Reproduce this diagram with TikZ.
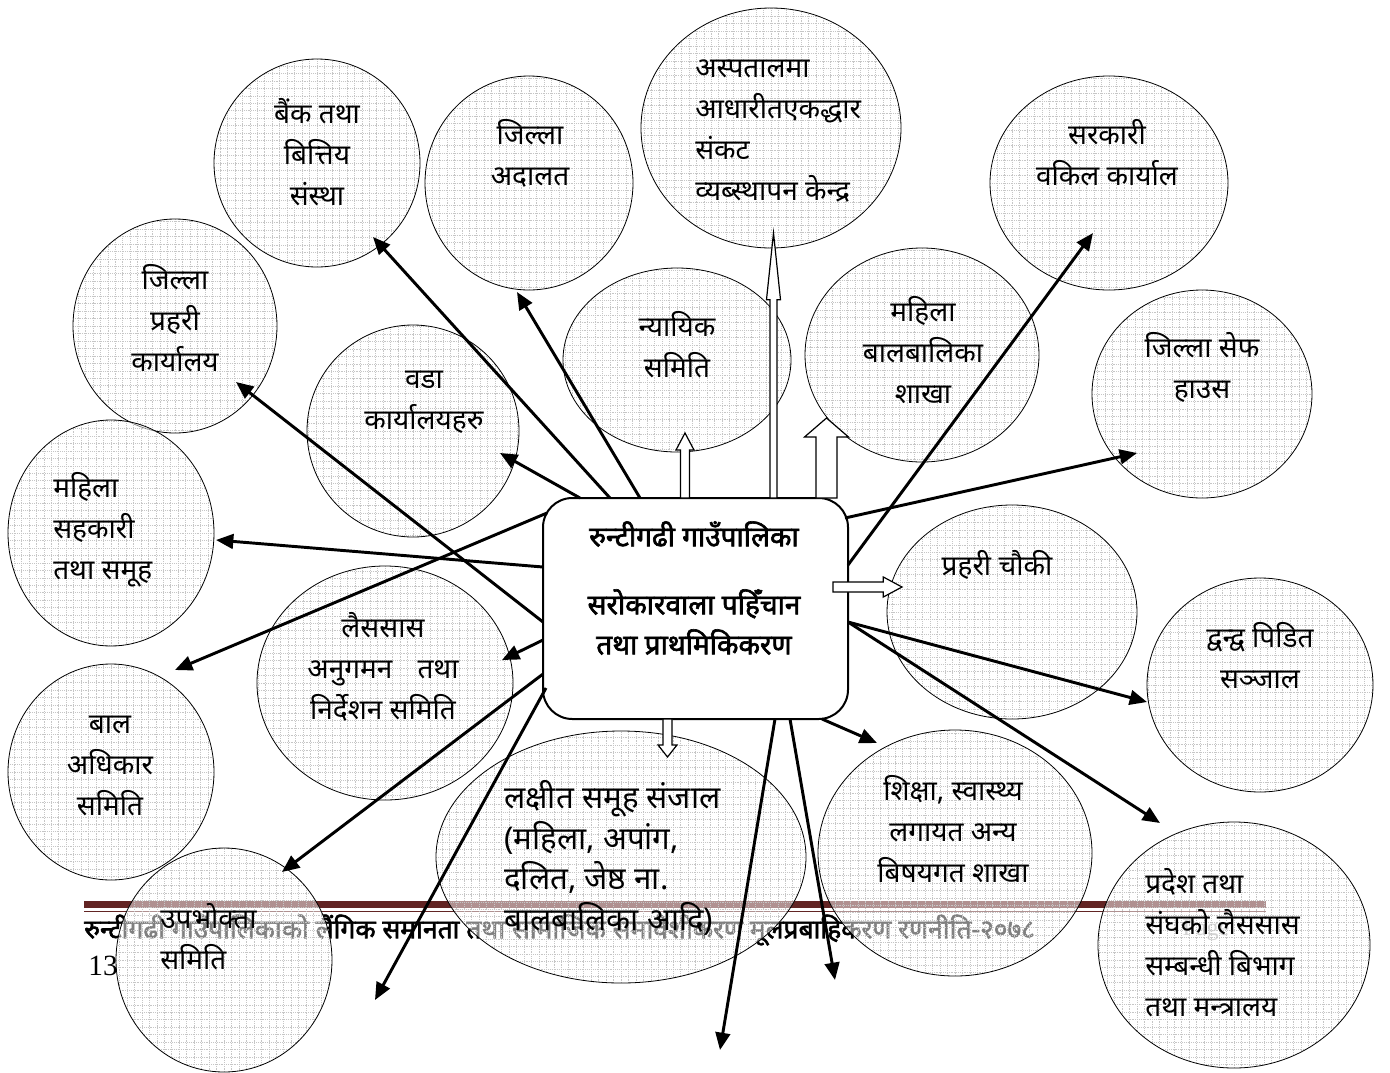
\documentclass[tikz,border=0pt]{standalone}
\usepackage{fontspec}
\newfontfamily\dev[Script=Devanagari]{Noto Sans}
\newfontfamily\devb[Script=Devanagari,FakeBold=2.2]{Noto Sans}
\newfontfamily\ser{Liberation Serif}
\usetikzlibrary{shapes.geometric,arrows.meta,calc}
\definecolor{footred}{HTML}{622423}
\newcommand{\hollowarr}[5]{%
  \coordinate (hb) at ($(#2)!#5!(#1)$);
  \draw[hollow] ($(#1)!#3!90:(#2)$) -- ($(hb)!#3!90:(#2)$) -- ($(hb)!#4!90:(#2)$) -- (#2)
    -- ($(hb)!#4!-90:(#2)$) -- ($(hb)!#3!-90:(#2)$) -- ($(#1)!#3!-90:(#2)$) -- cycle;}
\begin{document}
\begin{tikzpicture}[x=0.75pt,y=-0.75pt,
  gridln/.style={gray!45, line width=0.45pt, dash pattern=on 0.55pt off 0.85pt},
  bub/.style 2 args={ellipse, draw=black, line width=0.6pt, fill=white, fill opacity=0.5,
    inner sep=0pt, outer sep=0pt, minimum width=#1*1.5pt, minimum height=#2*1.5pt,
    path picture={\draw[gridln] (path picture bounding box.south west) grid[step=5.6pt]
      (path picture bounding box.north east);}},
  t/.style={font=\dev\fontsize{21}{30.75}\selectfont, align=center, inner sep=0pt},
  tl/.style={t, align=left, anchor=west},
  hub/.style={draw, line width=1.5pt, rounded corners=22pt, fill=white,
    minimum width=228.75pt, minimum height=165.75pt, inner sep=0pt},
  bt/.style={font=\devb\fontsize{21}{30}\selectfont, align=center, inner sep=0pt},
  arr/.style={line width=2.2pt, -{Triangle[length=13pt,width=11pt]}},
  hollow/.style={draw=black, line width=0.9pt, fill=white, line join=miter}
]
\useasboundingbox (0,0) rectangle (1390,1072);

% footer (behind the bubbles)
\fill[footred] (84,901) rectangle (1266,908);
\draw[footred, line width=1.1pt] (84,911.5) -- (1266,911.5);
\node[font=\devb\fontsize{19.8}{22}\selectfont, anchor=west, inner sep=0pt] (foot) at (84,930)
  {रुन्टीगढी गाउँपालिकाको लैंगिक समानता तथा सामाजिक समावेशीकरण मूलप्रबाहिकरण रणनीति-२०७८};
\node[font=\ser\fontsize{18}{20}\selectfont, text=gray!70, inner sep=0pt] (page) at (1206,930) {Page};
\node[font=\ser\fontsize{22}{24}\selectfont, inner sep=0pt] (pnum) at (103,966) {13};

% bubbles
\node[bub={103}{104}] (bank) at (317,163) {};
\node[bub={102}{107}] (police) at (175,326) {};
\node[bub={106}{106}] (wada) at (413,431) {};
\node[bub={104}{107}] (adalat) at (529,183) {};
\node[bub={130}{120}] (aspatal) at (771,128) {};
\node[bub={114}{92}] (nyayik) at (677,360) {};
\node[bub={117}{107}] (mbs) at (922,355) {};
\node[bub={119}{107}] (sarkari) at (1109,183) {};
\node[bub={110}{104}] (safe) at (1202,394) {};
\node[bub={125}{107}] (chauki) at (1012,612) {};
\node[bub={113}{107}] (dwandwa) at (1260,685) {};
\node[bub={137}{123}] (shiksha) at (955,853) {};
\node[bub={136}{123}] (pradesh) at (1234,945) {};
\node[bub={103}{113}] (sahakari) at (111,533) {};
\node[bub={103}{108}] (baal) at (111,772) {};
\node[bub={128}{117}] (laisasas) at (385,683) {};
\node[bub={185}{126}] (laxit) at (621,857) {};
\node[bub={108}{112}] (upa) at (224,960) {};

% bubble texts
\node[t] (bankT) at (317,152) {बैंक तथा\\बित्तिय\\संस्था};
\node[t] (policeT) at (175,318) {जिल्ला\\प्रहरी\\कार्यालय};
\node[t] (wadaT) at (424,402) {वडा\\कार्यालयहरु};
\node[t] (adalatT) at (530,153) {जिल्ला\\अदालत};
\node[tl] (aspatalT) at (695,131) {अस्पतालमा\\आधारीतएकद्धार\\संकट\\व्यब्स्थापन केन्द्र};
\node[t] (nyayikT) at (677,345) {न्यायिक\\समिति};
\node[t] (mbsT) at (923,350) {महिला\\बालबालिका\\शाखा};
\node[t] (sarkariT) at (1107,153) {सरकारी\\वकिल कार्याल};
\node[t] (safeT) at (1202,367) {जिल्ला सेफ\\हाउस};
\node[t] (chaukiT) at (997,565) {प्रहरी चौकी};
\node[t] (dwandwaT) at (1260,656) {द्वन्द्व पिडित\\सञ्जाल};
\node[t] (shikshaT) at (953,829) {शिक्षा, स्वास्थ्य\\लगायत अन्य\\बिषयगत शाखा};
\node[tl] (pradeshT) at (1145,943) {प्रदेश तथा\\संघको लैससास\\सम्बन्धी बिभाग\\तथा मन्त्रालय};
\node[tl] (sahakariT) at (53,530) {महिला\\सहकारी\\तथा समूह};
\node[t] (baalT) at (110,766) {बाल\\अधिकार\\समिति};
\node[t] (laisasasT) at (383,667) {लैससास\\अनुगमन\hspace{0.9em}तथा\\निर्देशन समिति};
\node[tl, font=\dev\fontsize{23.5}{30.5}\selectfont] (laxitT) at (504,858) {लक्षीत समूह संजाल\\(महिला, अपांग,\\दलित, जेष्ठ ना.\\बालबालिका आदि)};
\node[tl] (upaT) at (160,937) {उपभोक्ता\\समिति};

% central box
\node[hub] (hub) at (695.5,608.5) {};
\node[bt] (hubT) at (694,588) {रुन्टीगढी गाउँपालिका\\[21pt]सरोकारवाला पहिँचान\\तथा प्राथमिकिकरण};

% arrow end points
\coordinate (sBank) at (610,498);   \coordinate (tBank) at (373,237);
\coordinate (sAdalat) at (640,498); \coordinate (tAdalat) at (517,292);
\coordinate (sPolice) at (543,622); \coordinate (tPolice) at (236,382);
\coordinate (sWada) at (580,498);   \coordinate (tWada) at (500,453);
\coordinate (sSaha) at (543,567);   \coordinate (tSaha) at (216,540);
\coordinate (sBaal) at (547,513);   \coordinate (tBaal) at (175,670);
\coordinate (sLai) at (543,640);    \coordinate (tLai) at (502,660);
\coordinate (sUpa) at (543,674);    \coordinate (tUpa) at (282,872);
\coordinate (sF1) at (546,688);     \coordinate (tF1) at (375,1000);
\coordinate (sF2) at (775,719);     \coordinate (tF2) at (720,1050);
\coordinate (sF3) at (790,719);     \coordinate (tF3) at (835,980);
\coordinate (sShik) at (822,719);   \coordinate (tShik) at (877,743);
\coordinate (sPra) at (848,622);    \coordinate (tPra) at (1160,823);
\coordinate (sDwa) at (848,622);    \coordinate (tDwa) at (1147,702);
\coordinate (sSafe) at (845,518);   \coordinate (tSafe) at (1137,453);
\coordinate (sSar) at (848,565);    \coordinate (tSar) at (1093,233);

\foreach \a in {Bank,Adalat,Police,Wada,Saha,Baal,Lai,Upa,F1,F2,F3,Shik,Pra,Dwa,Safe,Sar}
  \draw[arr] (s\a) -- (t\a);

% hollow arrows
\coordinate (hNyS) at (685,498);    \coordinate (hNyE) at (685,433);
\coordinate (hAsS) at (773.5,498);  \coordinate (hAsE) at (773.5,233);
\coordinate (hMbS) at (826.5,498);  \coordinate (hMbE) at (826.5,418);
\coordinate (hChS) at (833,587);    \coordinate (hChE) at (902,587);
\coordinate (hLxS) at (667.5,719);  \coordinate (hLxE) at (667.5,757);
\hollowarr{hNyS}{hNyE}{3.4pt}{6.75pt}{12.75pt}
\hollowarr{hAsS}{hAsE}{2.6pt}{5.25pt}{50pt}
\hollowarr{hMbS}{hMbE}{7.9pt}{16.5pt}{14.25pt}
\hollowarr{hChS}{hChE}{3.75pt}{7.5pt}{14pt}
\hollowarr{hLxS}{hLxE}{3.4pt}{7.1pt}{9pt}
\end{tikzpicture}
\end{document}
